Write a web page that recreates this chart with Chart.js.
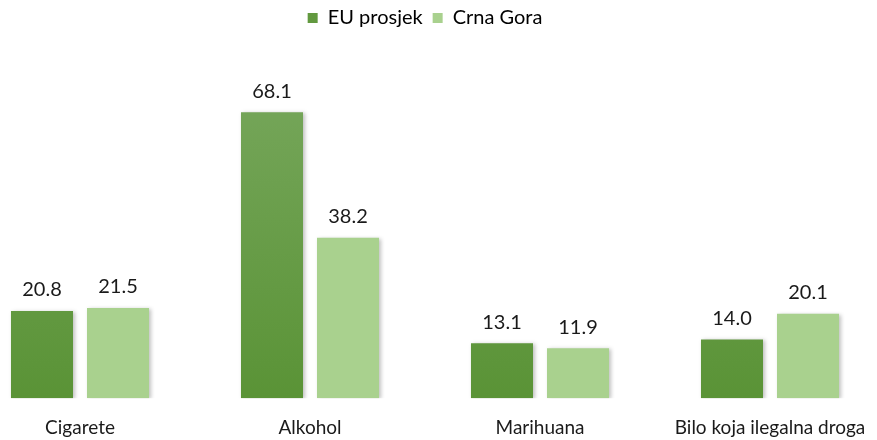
<!DOCTYPE html>
<html>
<head>
<meta charset="utf-8">
<script src="https://cdn.jsdelivr.net/npm/chart.js@4.4.0/dist/chart.umd.min.js"></script>
<style>
html,body{margin:0;padding:0;background:#fff;overflow:hidden;}
#wrap{position:absolute;left:-35px;top:-2px;width:920px;height:460px;}
</style>
</head>
<body>
<div id="wrap"><canvas id="c"></canvas></div>
<script>
const categories = ["Cigarete", "Alkohol", "Marihuana", "Bilo koja ilegalna droga"];
const seriesNames = ["EU prosjek", "Crna Gora"];
const euValues = [20.8, 68.1, 13.1, 14.0];
const mneValues = [21.5, 38.2, 11.9, 20.1];

const FONT = "Lato, 'Open Sans', sans-serif";

function darkGradient(ctx) {
  const chart = ctx.chart;
  const area = chart.chartArea;
  if (!area) return '#62993f';
  const g = chart.ctx.createLinearGradient(0, area.top, 0, area.bottom);
  g.addColorStop(0, '#7aa960');
  g.addColorStop(1, '#5a9336');
  return g;
}

const labelPlugin = {
  id: 'valueLabels',
  afterDatasetsDraw(chart) {
    const ctx = chart.ctx;
    ctx.save();
    ctx.font = "20px " + FONT;
    ctx.fillStyle = '#1a1a1a';
    ctx.textAlign = 'center';
    ctx.textBaseline = 'bottom';
    chart.data.datasets.forEach((ds, i) => {
      chart.getDatasetMeta(i).data.forEach((bar, j) => {
        ctx.fillText(ds.data[j].toFixed(1), bar.x, bar.y - 11);
      });
    });
    ctx.restore();
  }
};

const shadowPlugin = {
  id: 'barShadow',
  beforeDatasetsDraw(chart) {
    chart.ctx.save();
    chart.ctx.shadowColor = 'rgba(0,0,0,0.25)';
    chart.ctx.shadowBlur = 4;
    chart.ctx.shadowOffsetX = 2;
    chart.ctx.shadowOffsetY = 1;
  },
  afterDatasetsDraw(chart) {
    chart.ctx.restore();
  }
};

new Chart(document.getElementById('c'), {
  type: 'bar',
  data: {
    labels: categories,
    datasets: [
      { label: seriesNames[0], data: euValues, backgroundColor: darkGradient, borderWidth: 0 },
      { label: seriesNames[1], data: mneValues, backgroundColor: '#a9d18e', borderWidth: 0 }
    ]
  },
  options: {
    responsive: true,
    maintainAspectRatio: false,
    animation: false,
    devicePixelRatio: 1,
    layout: { padding: { top: 0, bottom: 1, left: 0, right: 0 } },
    plugins: {
      legend: {
        position: 'top',
        labels: {
          boxWidth: 10, boxHeight: 10, padding: 10,
          font: { size: 20, family: FONT }, color: '#1a1a1a',
          generateLabels(chart) {
            return chart.data.datasets.map((ds, i) => ({
              text: ds.label,
              fillStyle: i === 0 ? '#62993f' : '#a9d18e',
              strokeStyle: 'rgba(0,0,0,0)', lineWidth: 0,
              hidden: false, datasetIndex: i
            }));
          }
        }
      },
      tooltip: { enabled: false }
    },
    scales: {
      x: {
        grid: { display: false, drawTicks: false },
        border: { display: false },
        ticks: { padding: 18, font: { size: 19, family: FONT }, color: '#1a1a1a', maxRotation: 0, autoSkip: false }
      },
      y: { display: false, min: 0, max: 85.8 }
    },
    datasets: { bar: { categoryPercentage: 0.661, barPercentage: 0.816 } }
  },
  plugins: [shadowPlugin, labelPlugin]
});
</script>
</body>
</html>
